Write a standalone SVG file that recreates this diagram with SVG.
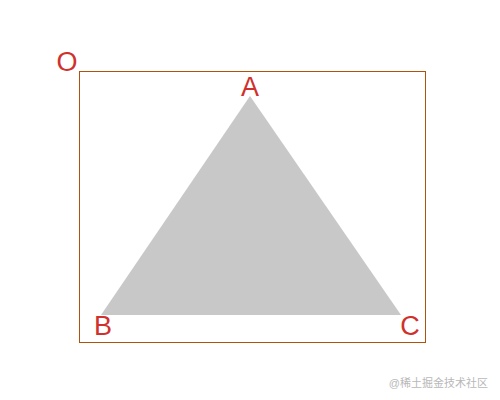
<svg xmlns="http://www.w3.org/2000/svg" width="500" height="400" viewBox="0 0 500 400">
<style>
.lbl{font-family:"Liberation Sans",Arial,sans-serif;font-size:27px;fill:#d0312d}
.wm{font-family:"Liberation Sans","Noto Sans CJK SC",sans-serif;font-size:11px;fill:#b8b8b8}
</style>
<rect width="500" height="400" fill="#ffffff"/>
<g id="frame"><rect x="79.5" y="71.5" width="346" height="271" fill="none" stroke="#b0520c" stroke-width="1"/></g>
<g id="triangle"><polygon points="250,96 101,315 401,315" fill="#c8c8c8"/></g>
<g id="labels">
<text class="lbl" x="67" y="71" text-anchor="middle">O</text>
<text class="lbl" x="250" y="96" text-anchor="middle">A</text>
<text class="lbl" x="103" y="335" text-anchor="middle">B</text>
<text class="lbl" x="410" y="335" text-anchor="middle">C</text>
</g>
<text class="wm" x="488" y="387" text-anchor="end">@稀土掘金技术社区</text>
</svg>
